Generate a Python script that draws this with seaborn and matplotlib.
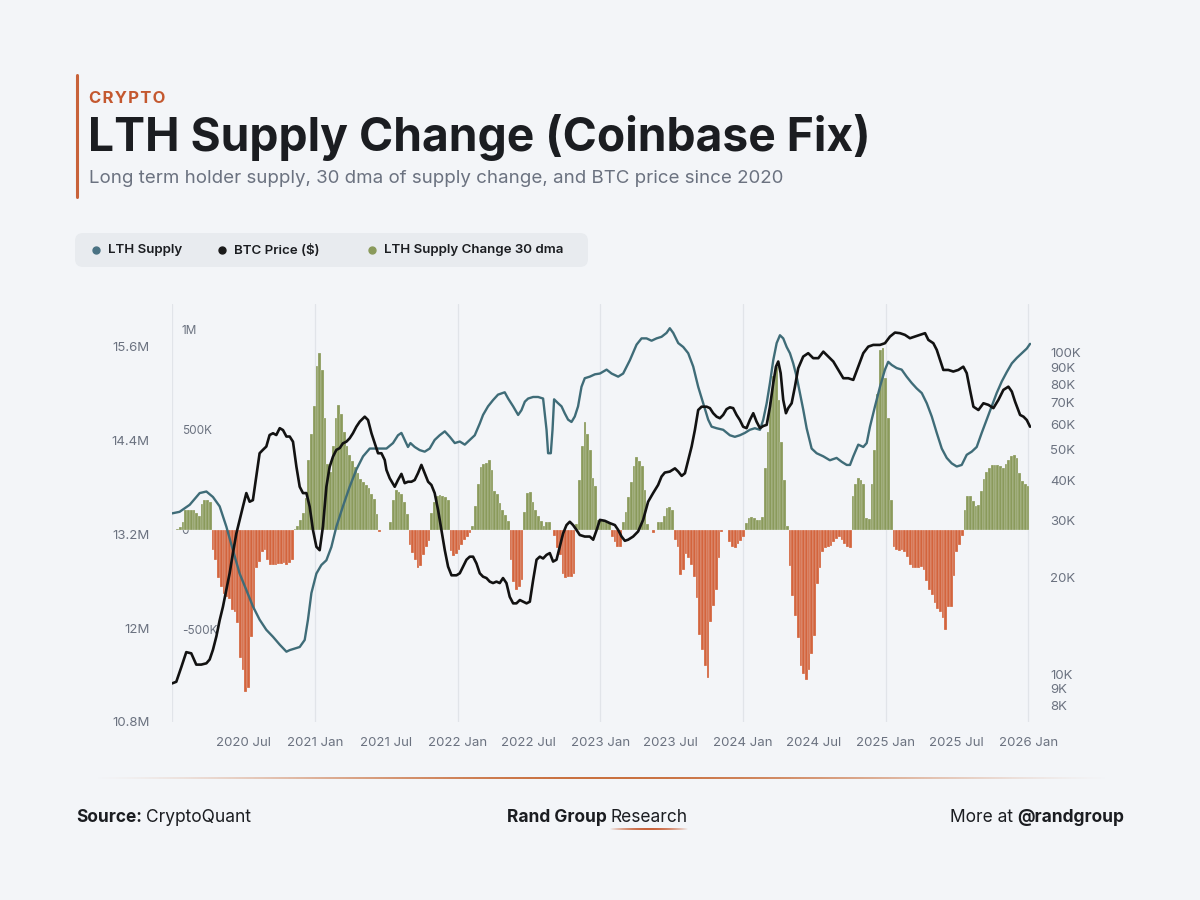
import numpy as np
import pandas as pd
import matplotlib
matplotlib.use("Agg")
import matplotlib.pyplot as plt
from matplotlib.lines import Line2D
from matplotlib.patches import FancyBboxPatch
from matplotlib.transforms import IdentityTransform
from matplotlib.ticker import FixedLocator, NullLocator
import seaborn as sns

W, H = 1200, 900
BG = "#f3f5f8"
TEAL = "#3f6c78"
GREEN = "#8a9a5b"
RED = "#d3643d"
ORANGE = "#c4582f"
GREY = "#6b7280"
DARK = "#1b1d21"

# LTH supply change, 30 dma (thousand BTC), one bar per week from 2020-01-01
supply_change_k = [
    0, 0, 5, 15, 40, 100, 100, 100, 100, 85, 70, 130, 150, 150, 140,
    -100, -150, -240, -283, -320, -335, -345, -400, -410, -467,
    -640, -700, -810, -790, -533, -400, -190, -160, -110, -100,
    -150, -175, -175, -175, -170, -170, -165, -175, -165, -150,
    5, 20, 50, 85, 160, 350, 480, 620, 820, 885,
    800, 560, 330, 290, 420, 560, 625, 580, 490, 420,
    375, 345, 315, 283, 255, 240, 225, 210, 180, 155,
    80, -10, 0, 0, 0, 40, 150, 200, 190, 180,
    140, 80, -75, -115, -150, -190, -180, -125, -85, -55,
    85, 140, 170, 175, 172, 165, 150, -105, -130, -118,
    -100, -75, -50, -35, -15, 20, 120, 230, 315, 328,
    335, 350, 300, 195, 180, 135, 100, 75, 45, -150,
    -260, -300, -285, -250, 90, 185, 190, 140, 100, 70,
    45, 20, 42, 42, 0, -30, -90, -125, -220, -240,
    -235, -233, -220, 30, 250, 420, 540, 480, 400, 260,
    220, 50, 50, 50, 45, 40, -35, -60, -85, -85,
    40, 90, 165, 240, 320, 365, 345, 320, 200, 30,
    0, -15, 0, 42, 42, 70, 108, 117, 100, -50,
    -85, -225, -200, -120, -138, -175, -235, -340, -525, -600,
    -680, -740, -460, -380, -300, -140, -10, 0, 0, -60,
    -85, -90, -72, -55, -35, 35, 60, 67, 60, 50,
    52, 65, 310, 490, 640, 770, 815, 650, 440, 250,
    20, -180, -330, -430, -540, -680, -720, -750, -700, -620,
    -530, -270, -190, -110, -90, -83, -80, -62, -45, -33,
    -50, -68, -85, -92, 170, 230, 258, 250, 230, 60,
    55, 230, 400, 680, 900, 910, 760, 560, 150, -85,
    -100, -105, -100, -108, -135, -175, -192, -192, -190, -183,
    -200, -255, -300, -325, -365, -395, -412, -440, -500, -385,
    -383, -230, -110, -75, -30, 100, 170, 168, 145, 118,
    125, 195, 255, 290, 310, 325, 325, 325, 318, 310,
    330, 350, 368, 375, 360, 285, 245, 230, 218,
]

# LTH supply (million BTC) at decimal-year positions
lth_year = [
    2020.000, 2020.053, 2020.124, 2020.194, 2020.241, 2020.287, 2020.334, 2020.381,
    2020.427, 2020.474, 2020.521, 2020.567, 2020.614, 2020.661, 2020.708, 2020.755,
    2020.802, 2020.825, 2020.860, 2020.895, 2020.930, 2020.953, 2020.977, 2021.012,
    2021.047, 2021.082, 2021.117, 2021.152, 2021.198, 2021.245, 2021.292, 2021.339,
    2021.386, 2021.433, 2021.479, 2021.503, 2021.549, 2021.584, 2021.608, 2021.631,
    2021.654, 2021.671, 2021.701, 2021.736, 2021.771, 2021.806, 2021.841, 2021.876,
    2021.912, 2021.947, 2021.982, 2022.017, 2022.052, 2022.087, 2022.122, 2022.157,
    2022.180, 2022.215, 2022.250, 2022.285, 2022.332, 2022.356, 2022.391, 2022.426,
    2022.449, 2022.473, 2022.496, 2022.531, 2022.566, 2022.601, 2022.625, 2022.636,
    2022.655, 2022.667, 2022.678, 2022.706, 2022.730, 2022.753, 2022.776, 2022.800,
    2022.823, 2022.846, 2022.870, 2022.893, 2022.928, 2022.964, 2022.999, 2023.046,
    2023.081, 2023.127, 2023.162, 2023.209, 2023.256, 2023.291, 2023.326, 2023.361,
    2023.396, 2023.431, 2023.466, 2023.489, 2023.513, 2023.548, 2023.583, 2023.618,
    2023.653, 2023.688, 2023.723, 2023.758, 2023.782, 2023.817, 2023.863, 2023.910,
    2023.945, 2023.980, 2024.015, 2024.050, 2024.085, 2024.121, 2024.144, 2024.168,
    2024.191, 2024.214, 2024.238, 2024.261, 2024.284, 2024.308, 2024.331, 2024.354,
    2024.378, 2024.401, 2024.424, 2024.448, 2024.483, 2024.518, 2024.565, 2024.611,
    2024.658, 2024.694, 2024.729, 2024.752, 2024.775, 2024.810, 2024.845, 2024.869,
    2024.892, 2024.927, 2024.962, 2024.997, 2025.020, 2025.044, 2025.079, 2025.114,
    2025.149, 2025.184, 2025.219, 2025.255, 2025.290, 2025.325, 2025.360, 2025.395,
    2025.430, 2025.465, 2025.500, 2025.535, 2025.570, 2025.605, 2025.640, 2025.675,
    2025.710, 2025.745, 2025.780, 2025.816, 2025.851, 2025.886, 2025.921, 2025.956,
    2025.991, 2026.014,
]
lth_supply_m = [
    13.47, 13.49, 13.58, 13.73, 13.75, 13.68, 13.56, 13.30,
    13.00, 12.70, 12.49, 12.28, 12.11, 11.98, 11.89, 11.79,
    11.70, 11.72, 11.74, 11.76, 11.85, 12.11, 12.45, 12.70,
    12.81, 12.87, 13.04, 13.30, 13.56, 13.81, 14.03, 14.20,
    14.30, 14.30, 14.30, 14.30, 14.37, 14.47, 14.50, 14.41,
    14.32, 14.37, 14.32, 14.28, 14.26, 14.30, 14.41, 14.47,
    14.52, 14.45, 14.37, 14.39, 14.35, 14.41, 14.47, 14.62,
    14.73, 14.84, 14.92, 14.99, 15.02, 14.94, 14.84, 14.73,
    14.79, 14.90, 14.94, 14.96, 14.96, 14.94, 14.54, 14.24,
    14.24, 14.54, 14.93, 14.88, 14.84, 14.75, 14.67, 14.64,
    14.71, 14.84, 15.09, 15.20, 15.22, 15.25, 15.26, 15.31,
    15.26, 15.22, 15.26, 15.43, 15.63, 15.71, 15.71, 15.68,
    15.71, 15.73, 15.78, 15.84, 15.78, 15.65, 15.60, 15.52,
    15.35, 15.09, 14.88, 14.67, 14.58, 14.56, 14.54, 14.47,
    14.45, 14.47, 14.50, 14.54, 14.56, 14.54, 14.67, 14.88,
    15.14, 15.43, 15.65, 15.75, 15.71, 15.60, 15.52, 15.39,
    15.22, 15.01, 14.80, 14.56, 14.30, 14.24, 14.20, 14.15,
    14.18, 14.13, 14.09, 14.09, 14.20, 14.35, 14.32, 14.37,
    14.58, 14.84, 15.09, 15.31, 15.41, 15.37, 15.33, 15.31,
    15.22, 15.14, 15.07, 15.01, 14.88, 14.71, 14.50, 14.30,
    14.18, 14.11, 14.07, 14.09, 14.22, 14.26, 14.32, 14.50,
    14.67, 14.84, 15.01, 15.16, 15.28, 15.39, 15.46, 15.52,
    15.58, 15.64,
]

# BTC price (thousand USD) at decimal-year positions
btc_year = [
    2020.000, 2020.030, 2020.065, 2020.100, 2020.135, 2020.170, 2020.205, 2020.241,
    2020.264, 2020.287, 2020.311, 2020.334, 2020.357, 2020.381, 2020.404, 2020.427,
    2020.451, 2020.474, 2020.497, 2020.521, 2020.544, 2020.567, 2020.591, 2020.614,
    2020.637, 2020.661, 2020.684, 2020.708, 2020.731, 2020.755, 2020.778, 2020.802,
    2020.825, 2020.848, 2020.872, 2020.895, 2020.918, 2020.942, 2020.965, 2020.988,
    2021.012, 2021.035, 2021.058, 2021.082, 2021.105, 2021.128, 2021.152, 2021.175,
    2021.198, 2021.222, 2021.245, 2021.268, 2021.292, 2021.316, 2021.351, 2021.374,
    2021.398, 2021.421, 2021.444, 2021.468, 2021.491, 2021.503, 2021.526, 2021.561,
    2021.584, 2021.608, 2021.631, 2021.654, 2021.678, 2021.701, 2021.724, 2021.748,
    2021.771, 2021.795, 2021.818, 2021.841, 2021.865, 2021.888, 2021.912, 2021.935,
    2021.959, 2021.994, 2022.017, 2022.040, 2022.064, 2022.087, 2022.110, 2022.134,
    2022.157, 2022.180, 2022.204, 2022.227, 2022.250, 2022.274, 2022.297, 2022.320,
    2022.344, 2022.367, 2022.391, 2022.414, 2022.438, 2022.461, 2022.485, 2022.508,
    2022.531, 2022.555, 2022.578, 2022.601, 2022.625, 2022.648, 2022.671, 2022.695,
    2022.718, 2022.741, 2022.765, 2022.788, 2022.811, 2022.835, 2022.858, 2022.893,
    2022.928, 2022.952, 2022.975, 2022.999, 2023.034, 2023.069, 2023.104, 2023.127,
    2023.151, 2023.174, 2023.197, 2023.232, 2023.267, 2023.302, 2023.337, 2023.372,
    2023.407, 2023.431, 2023.454, 2023.489, 2023.525, 2023.548, 2023.572, 2023.595,
    2023.618, 2023.642, 2023.665, 2023.688, 2023.712, 2023.747, 2023.770, 2023.793,
    2023.817, 2023.840, 2023.863, 2023.887, 2023.910, 2023.933, 2023.957, 2023.980,
    2024.003, 2024.027, 2024.050, 2024.074, 2024.097, 2024.121, 2024.144, 2024.168,
    2024.191, 2024.214, 2024.233, 2024.249, 2024.266, 2024.284, 2024.303, 2024.319,
    2024.343, 2024.366, 2024.389, 2024.424, 2024.459, 2024.494, 2024.530, 2024.565,
    2024.600, 2024.635, 2024.670, 2024.705, 2024.740, 2024.775, 2024.810, 2024.845,
    2024.880, 2024.915, 2024.962, 2024.997, 2025.032, 2025.067, 2025.102, 2025.137,
    2025.172, 2025.207, 2025.242, 2025.278, 2025.301, 2025.336, 2025.360, 2025.383,
    2025.406, 2025.441, 2025.476, 2025.511, 2025.546, 2025.570, 2025.593, 2025.617,
    2025.652, 2025.687, 2025.722, 2025.757, 2025.792, 2025.827, 2025.862, 2025.886,
    2025.909, 2025.944, 2025.968, 2025.991, 2026.014,
]
btc_price_k = [
    9.35, 9.46, 10.5, 11.7, 11.6, 10.7, 10.7, 10.8,
    11.1, 11.9, 13.1, 14.7, 16.2, 18.3, 20.6, 23.8,
    27.4, 30.2, 33.2, 36.6, 34.4, 34.8, 41.2, 48.7,
    49.9, 51.1, 55.5, 56.2, 55.5, 58.3, 57.5, 54.9,
    54.9, 52.9, 44.2, 38.3, 36.6, 36.6, 33.2, 28.1,
    24.9, 24.3, 28.8, 38.3, 44.2, 47.5, 49.9, 50.5,
    52.3, 52.9, 54.2, 56.2, 58.9, 61.1, 63.3, 61.8,
    56.2, 52.3, 48.7, 48.7, 46.4, 43.2, 40.7, 38.3,
    40.2, 42.0, 39.3, 39.7, 39.7, 40.2, 42.2, 44.8,
    42.2, 39.7, 38.8, 36.6, 32.4, 28.1, 24.3, 21.6,
    20.3, 20.3, 20.6, 21.6, 22.7, 23.2, 23.2, 22.1,
    20.6, 20.1, 19.9, 19.4, 19.2, 19.4, 19.2, 19.9,
    19.2, 17.4, 16.6, 16.6, 17.0, 16.8, 16.6, 16.8,
    19.6, 22.7, 23.2, 22.9, 23.5, 23.8, 22.4, 22.7,
    24.9, 27.4, 29.1, 29.8, 29.1, 28.1, 27.1, 26.8,
    26.8, 26.2, 28.0, 30.2, 30.0, 29.5, 29.1, 28.1,
    26.8, 26.0, 26.2, 26.8, 27.8, 30.2, 34.4, 36.6,
    38.8, 41.2, 42.4, 42.7, 43.7, 42.7, 41.4, 42.2,
    46.4, 51.1, 57.6, 66.4, 68.0, 68.0, 67.3, 64.9,
    63.3, 62.6, 64.1, 66.8, 67.7, 67.3, 64.1, 61.8,
    58.9, 58.3, 61.8, 64.9, 61.1, 58.3, 59.2, 59.7,
    68.0, 80.5, 90.6, 94.0, 86.5, 71.4, 64.9, 67.3,
    69.7, 78.5, 89.6, 97.4, 99.8, 96.3, 96.3, 100.9,
    97.4, 94.0, 88.5, 83.4, 83.4, 82.4, 90.6, 99.8,
    104.6, 105.9, 105.9, 107.2, 112.4, 115.7, 115.2, 113.8,
    111.1, 112.4, 113.8, 115.2, 109.8, 107.2, 102.2, 95.1,
    88.5, 88.5, 87.5, 88.5, 90.6, 86.5, 76.7, 68.0,
    66.4, 69.7, 68.9, 67.3, 71.4, 76.7, 78.5, 75.8,
    70.5, 64.1, 63.3, 61.8, 58.9,
]

x_tick_labels = ["2020 Jul", "2021 Jan", "2021 Jul", "2022 Jan", "2022 Jul", "2023 Jan",
                 "2023 Jul", "2024 Jan", "2024 Jul", "2025 Jan", "2025 Jul", "2026 Jan"]
grid_years = [2020, 2021, 2022, 2023, 2024, 2025, 2026]
lth_ticks_m = [10.8, 12, 13.2, 14.4, 15.6]
change_ticks_k = [-500, 0, 500, 1000]
change_tick_labels = ["-500K", "0", "500K", "1M"]
price_ticks_k = [8, 9, 10, 20, 30, 40, 50, 60, 70, 80, 90, 100]


def to_dates(years):
    return pd.Timestamp("2020-01-01") + pd.to_timedelta((np.array(years) - 2020) * 365.25, unit="D")


sns.set_theme(style="white", rc={"axes.facecolor": BG, "figure.facecolor": BG})
plt.rcParams["font.family"] = ["Inter", "DejaVu Sans"]

fig = plt.figure(figsize=(W / 100, H / 100), dpi=100)
renderer = fig.canvas.get_renderer()

L, R, B, T = 172, 1031, 722, 304
ax = fig.add_axes([L / W, 1 - B / H, (R - L) / W, (B - T) / H])

# bars (weekly, thin light separators like the original)
weeks = pd.date_range("2020-01-01", periods=len(supply_change_k), freq="7D")
chg = np.array(supply_change_k) * 1e3
ax.bar(weeks, chg, width=7, color=np.where(chg >= 0, GREEN, RED),
       edgecolor=BG, linewidth=0.18, zorder=2)
for yr in grid_years:
    ax.axvline(pd.Timestamp(f"{yr}-01-01"), color="#e1e4e9", lw=0.9, zorder=0)
ax.set_ylim(-960e3, 1130e3)
ax.set_xlim(pd.Timestamp("2020-01-01"), pd.Timestamp("2026-01-08"))
ax.yaxis.set_major_locator(FixedLocator(np.array(change_ticks_k) * 1e3))
ax.set_yticklabels(change_tick_labels)
ax.tick_params(axis="y", length=0, pad=-7, labelsize=8.5, labelcolor=GREY)
for lab in ax.get_yticklabels():
    lab.set_horizontalalignment("left")
ax.set_xticks(pd.to_datetime(x_tick_labels, format="%Y %b"))
ax.set_xticklabels(x_tick_labels)
ax.tick_params(axis="x", length=0, pad=11, labelsize=9.5, labelcolor=GREY)

# LTH supply
ax_l = ax.twinx()
sns.lineplot(x=to_dates(lth_year), y=np.array(lth_supply_m) * 1e6, ax=ax_l,
             color=TEAL, lw=1.7, zorder=3)
ax_l.set_ylim(10.8e6, 16.15e6)
ax_l.yaxis.tick_left()
ax_l.yaxis.set_major_locator(FixedLocator(np.array(lth_ticks_m) * 1e6))
ax_l.set_yticklabels([f"{v:g}M" for v in lth_ticks_m])
ax_l.tick_params(axis="y", length=0, pad=16, labelsize=9.5, labelcolor=GREY)

# BTC price
ax_p = ax.twinx()
sns.lineplot(x=to_dates(btc_year), y=np.array(btc_price_k) * 1e3, ax=ax_p,
             color="#121212", lw=1.9, zorder=4)
ax_p.set_yscale("log")
ax_p.set_ylim(7.09e3, 142e3)
ax_p.yaxis.set_major_locator(FixedLocator(np.array(price_ticks_k) * 1e3))
ax_p.yaxis.set_minor_locator(NullLocator())
ax_p.set_yticklabels([f"{v}K" for v in price_ticks_k])
ax_p.tick_params(axis="y", length=0, pad=14, labelsize=9.5, labelcolor=GREY)

for a in (ax, ax_l, ax_p):
    a.set_xlabel("")
    a.set_ylabel("")
    for s in a.spines.values():
        s.set_visible(False)
ax_l.set_xlim(ax.get_xlim())
ax_p.set_xlim(ax.get_xlim())


# header
def put(x, y, s, **kw):
    return fig.text(x / W, 1 - y / H, s, **kw)


def fit(t, width_px):
    bb = t.get_window_extent(renderer)
    t.set_fontsize(t.get_fontsize() * width_px / bb.width)


fig.add_artist(Line2D([76.5 / W, 76.5 / W], [1 - 75 / H, 1 - 197 / H], color="#c8623a",
                      lw=2.2, transform=fig.transFigure))
put(89, 103, "C R Y P T O".replace(" ", "\u200a"), fontsize=12, fontweight="bold",
    color=ORANGE, va="baseline")
title = put(88, 151, "LTH Supply Change (Coinbase Fix)", fontsize=32, fontweight="bold",
            color=DARK, va="baseline")
fit(title, 782)
sub = put(89, 183, "Long term holder supply, 30 dma of supply change, and BTC price since 2020",
          fontsize=14, color=GREY, va="baseline")
fit(sub, 695)

# legend
fig.add_artist(FancyBboxPatch((75, H - 267), 513, 34, boxstyle="round,pad=0,rounding_size=8",
                              facecolor="#e8ebef", edgecolor="none", transform=IdentityTransform()))
for dx, tx, col, name in [(96, 108, "#4a7283", "LTH Supply"), (222, 234, "#1a1a1a", "BTC Price ($)"),
                          (372, 384, GREEN, "LTH Supply Change 30 dma")]:
    fig.add_artist(Line2D([dx / W], [1 - 250 / H], marker="o", ms=5, color=col, lw=0,
                          transform=fig.transFigure))
    put(tx, 250, name, fontsize=9.6, fontweight="semibold", color=DARK, va="center")

# footer gradient line
gl = fig.add_axes([88 / W, 1 - 779 / H, 1027 / W, 2.5 / H])
u = np.linspace(0, 1, 400)
grad = np.zeros((1, 400, 4))
grad[..., :3] = matplotlib.colors.to_rgb("#c9703f")
grad[..., 3] = np.sin(np.pi * u) ** 1.5
gl.imshow(grad, aspect="auto", extent=(0, 1, 0, 1))
gl.axis("off")


def put_pair(x, y, a, b, wa, wb, size, anchor="left"):
    t1 = put(x, y, a, fontsize=size, fontweight=wa, color=DARK, va="baseline")
    t2 = put(x, y, b, fontsize=size, fontweight=wb, color=DARK, va="baseline")
    w1 = t1.get_window_extent(renderer).width
    w2 = t2.get_window_extent(renderer).width
    gap = size * 0.3
    if anchor == "left":
        x0 = x
    elif anchor == "center":
        x0 = x - (w1 + gap + w2) / 2
    else:
        x0 = x - (w1 + gap + w2)
    t1.set_x(x0 / W)
    t2.set_x((x0 + w1 + gap) / W)
    return x0 + w1 + gap, x0 + w1 + gap + w2


put_pair(76, 822, "Source:", "CryptoQuant", "bold", "normal", 12.5)
r0, r1 = put_pair(597, 822, "Rand Group", "Research", "bold", "normal", 12.5, anchor="center")
put_pair(1124, 822, "More at", "@randgroup", "normal", "bold", 12.5, anchor="right")

ul = fig.add_axes([r0 / W, 1 - 830 / H, (r1 - r0) / W, 2.5 / H])
grad2 = np.zeros((1, 200, 4))
grad2[..., :3] = matplotlib.colors.to_rgb("#c9623a")
grad2[..., 3] = np.sin(np.pi * np.linspace(0, 1, 200)) ** 0.8
ul.imshow(grad2, aspect="auto", extent=(0, 1, 0, 1))
ul.axis("off")

fig.savefig("out.png", dpi=100, facecolor=BG)
